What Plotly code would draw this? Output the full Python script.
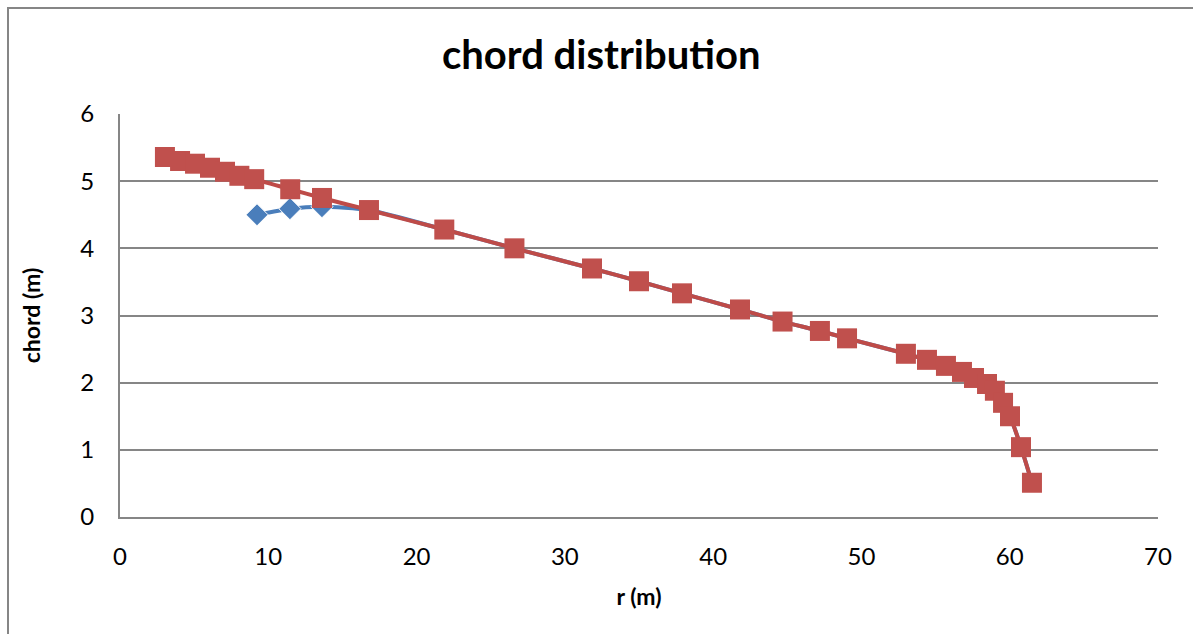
import plotly.graph_objects as go

# Red series (squares)
r_red = [3.03, 4.05, 5.06, 6.07, 7.08, 8.05, 9.05, 11.48, 13.62, 16.79,
         21.87, 26.6, 31.83, 35.0, 37.9, 41.81, 44.68, 47.2, 49.03, 53.0,
         54.42, 55.7, 56.78, 57.59, 58.47, 59.0, 59.55, 60.02, 60.76, 61.5]
c_red = [5.36, 5.30, 5.26, 5.20, 5.14, 5.08, 5.03, 4.88, 4.75, 4.57,
         4.28, 4.00, 3.70, 3.51, 3.33, 3.09, 2.91, 2.77, 2.66, 2.43,
         2.34, 2.25, 2.16, 2.07, 1.98, 1.88, 1.70, 1.50, 1.04, 0.51]

# Blue series (diamonds)
r_blue = [9.24, 11.46, 13.62] + r_red[9:]
c_blue = [4.50, 4.59, 4.62] + c_red[9:]

x_ticks = [0, 10, 20, 30, 40, 50, 60, 70]
y_ticks = [0, 1, 2, 3, 4, 5, 6]

FONT = "Lato"
blue_sizes = [17 if i < 3 else 0 for i in range(len(r_blue))]

fig = go.Figure()
fig.add_trace(go.Scatter(
    x=r_blue, y=c_blue, mode="lines+markers",
    line=dict(color="#4A7EBB", width=4, shape="spline", smoothing=0.6),
    marker=dict(symbol="diamond", size=blue_sizes, color="#4A7EBB", opacity=1),
    showlegend=False, cliponaxis=False))
fig.add_trace(go.Scatter(
    x=r_red, y=c_red, mode="lines+markers",
    line=dict(color="#BE4B48", width=4, shape="spline", smoothing=0.6),
    marker=dict(symbol="square", size=20, color="#C0504D"),
    showlegend=False, cliponaxis=False))

fig.update_layout(
    width=1193, height=634,
    margin=dict(l=120, r=35, t=114, b=117),
    paper_bgcolor="white", plot_bgcolor="white",
    title=dict(text="<b>chord distribution</b>", x=0.504, xanchor="center",
               y=0.913, yanchor="middle",
               font=dict(family=FONT, size=40, color="black")),
    font=dict(family=FONT, color="black"),
    xaxis=dict(range=[0, 70], tickvals=x_ticks, showgrid=False,
               showline=True, linecolor="#868686", linewidth=2,
               ticks="", ticklabelstandoff=17,
               tickfont=dict(size=24, family=FONT), zeroline=False,
               title=dict(text="<b>r (m)</b>", font=dict(size=23, family=FONT),
                          standoff=20)),
    yaxis=dict(range=[0, 6], tickvals=y_ticks, showgrid=True,
               gridcolor="#868686", gridwidth=1.5,
               showline=True, linecolor="#868686", linewidth=2,
               ticks="", ticklabelstandoff=19,
               tickfont=dict(size=24, family=FONT), zeroline=False,
               title=dict(text="<b>chord (m)</b>", font=dict(size=23, family=FONT),
                          standoff=33)),
)

# outer chart frame
fig.add_shape(type="rect", xref="paper", yref="paper",
              x0=(8 - 120) / 1038, x1=(1200 - 120) / 1038,
              y0=(517 - 660) / 403, y1=(517 - 8) / 403,
              line=dict(color="#868686", width=2), layer="below")

fig.write_html("out.html")
